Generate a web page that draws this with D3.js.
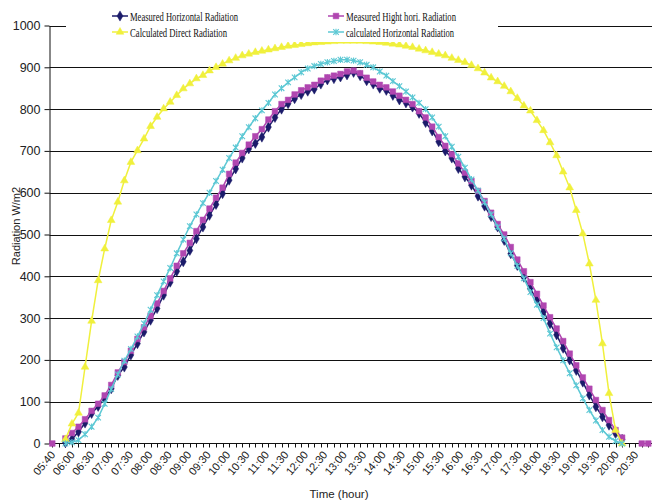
<!DOCTYPE html>
<html><head><meta charset="utf-8">
<script src="https://cdn.jsdelivr.net/npm/d3@7"></script>
<style>body{margin:0;background:#fff}svg{display:block}</style>
</head><body>
<svg id="c" width="652" height="502"></svg>
<script>
const tickLabels = ["05:40","06:00","06:30","07:00","07:30","08:00","08:30","09:00","09:30","10:00","10:30","11:00","11:30","12:00","12:30","13:00","13:30","14:00","14:30","15:00","15:30","16:00","16:30","17:00","17:30","18:00","18:30","19:00","19:30","20:00","20:30"];
const seriesNames = ["Measured Horizontal Radiation","Measured Hight hori. Radiation","Calculated Direct Radiation","calculated Horizontal Radiation"];
const yTicks = [0,100,200,300,400,500,600,700,800,900,1000];

const measuredHorizontal = [null,null,2,10,28,49,72,89,108,131,163,183,212,239,267,295,323,355,386,412,435,462,490,518,546,572,598,630,657,683,705,718,733,757,780,800,813,825,835,843,848,860,870,873,877,882,888,880,868,860,850,845,833,822,815,805,790,768,748,722,700,683,658,638,618,592,568,543,518,486,454,426,398,370,343,315,287,260,228,200,175,147,116,88,64,44,24,10,null,null,null,null];
const measuredHigh = [0,null,12,25,40,58,78,95,115,140,170,195,222,250,278,305,335,365,395,425,455,480,508,535,562,588,612,645,672,695,715,735,752,775,795,812,822,835,845,852,858,868,876,880,884,890,892,886,875,866,858,852,842,832,822,812,795,780,758,733,712,692,670,648,628,604,580,552,525,500,470,440,412,386,358,330,302,275,245,215,187,158,131,104,80,56,32,14,null,null,0,0];
const calculatedDirect = [null,null,10,47,73,183,293,390,466,534,578,629,673,701,729,759,781,801,817,833,849,861,873,881,892,900,908,916,922,928,932,936,939,942,945,948,951,953,955,957,959,960,961,962,963,963,963,963,962,961,960,958,956,954,951,948,944,940,936,932,928,922,917,912,905,897,887,875,866,855,842,826,808,796,773,749,720,689,650,612,558,502,430,343,239,120,32,0,null,null,null,null];
const calculatedHorizontal = [null,null,0,3,8,22,40,62,95,130,165,198,226,256,287,320,355,388,420,455,488,520,548,575,600,628,655,683,708,735,757,778,797,815,835,850,864,876,888,897,903,908,912,915,918,918,916,912,906,900,890,880,867,855,842,828,815,800,780,758,735,710,686,660,632,605,577,548,518,490,455,425,395,362,332,300,263,230,199,168,139,108,80,55,32,16,6,0,null,null,null,null];

const colors = ["#1b1b6a","#b046b0","#f0f03c","#5cc8d4"];
const symbols = ["diamond","square","triangle","star"];
const allSeries = [measuredHorizontal, measuredHigh, calculatedDirect, calculatedHorizontal];

const svg = d3.select("#c");
const idx = d3.range(measuredHorizontal.length);
const x = d3.scalePoint().domain(idx).range([52.3, 648.3]);
const xl = d3.scalePoint().domain(tickLabels).range([53, 636]);
const y = d3.scaleLinear().domain([0,1000]).range([443.5, 25.5]);
const X0 = 49.5, XR = 652;

// gridlines
svg.append("g").selectAll("line").data(yTicks.filter(v=>v>0)).join("line")
  .attr("x1",X0).attr("x2",XR)
  .attr("y1",v=>Math.round(y(v))+0.5).attr("y2",v=>Math.round(y(v))+0.5)
  .attr("stroke","#111").attr("stroke-width",1.2);

// y axis
const ya = svg.append("g").attr("transform",`translate(${X0},0)`)
  .call(d3.axisLeft(y).tickValues(yTicks).tickFormat(d3.format("d")).tickSize(5).tickSizeOuter(0).tickPadding(4));
ya.select(".domain").attr("stroke","#111");
ya.selectAll(".tick line").attr("stroke","#111");
ya.selectAll("text").attr("font-family","Liberation Sans, Arial, sans-serif").attr("font-size",12.5).attr("fill","#222");

// x axis
const xa = svg.append("g").attr("transform","translate(0,443.5)");
xa.append("line").attr("x1",X0).attr("x2",XR).attr("stroke","#111").attr("stroke-width",1.2);
xa.selectAll("line.t").data(idx).join("line").attr("class","t")
  .attr("x1",i=>Math.round(x(i))+0.5).attr("x2",i=>Math.round(x(i))+0.5)
  .attr("y1",0).attr("y2",4).attr("stroke","#111");
xa.selectAll("text").data(tickLabels).join("text")
  .attr("transform",t=>`translate(${xl(t)},${9}) rotate(-50)`)
  .attr("text-anchor","end").attr("dy","0.35em")
  .attr("font-family","Liberation Sans, Arial, sans-serif").attr("font-size",11).attr("fill","#222")
  .text(t=>t);

// axis titles
svg.append("text").attr("x",339).attr("y",498).attr("text-anchor","middle")
  .attr("font-family","Liberation Sans, Arial, sans-serif").attr("font-size",11.5).attr("fill","#222").text("Time (hour)");
svg.append("text").attr("transform","translate(20,226) rotate(-90)").attr("text-anchor","middle")
  .attr("font-family","Liberation Sans, Arial, sans-serif").attr("font-size",11).attr("fill","#222").text("Radiation W/m2");

function markerPath(kind){
  if(kind==="star") return "M-2.8,-2.8L2.8,2.8M-2.8,2.8L2.8,-2.8M0,-3.2L0,3.2";
  const t = {diamond:d3.symbolDiamond, square:d3.symbolSquare, triangle:d3.symbolTriangle}[kind];
  const s = {diamond:30, square:32, triangle:26}[kind];
  return d3.symbol().type(t).size(s)();
}
function drawMarker(g, kind, color){
  g.append("path").attr("d",markerPath(kind))
   .attr("fill", kind==="star" ? "none" : color)
   .attr("stroke", color).attr("stroke-width", kind==="star"?1.1:0.5);
}

const line = d3.line().defined(d=>d[1]!=null).x(d=>x(d[0])).y(d=>y(d[1]));
allSeries.forEach((arr,s)=>{
  const pts = arr.map((v,i)=>[i,v]);
  const g = svg.append("g");
  g.append("path").attr("d",line(pts)).attr("fill","none").attr("stroke",colors[s]).attr("stroke-width",1.5);
  pts.filter(p=>p[1]!=null).forEach(p=>{
    const m = g.append("g").attr("transform",`translate(${x(p[0])},${y(p[1])})`);
    drawMarker(m, symbols[s], colors[s]);
  });
});

// legend
const lg = svg.append("g");
lg.append("rect").attr("x",66).attr("y",6).attr("width",432).attr("height",36).attr("fill","#fff");
const lpos = [[112,16],[328,16],[112,32],[328,32]];
const lwid = [108,110,97,108];
seriesNames.forEach((n,s)=>{
  const [lx,ly] = lpos[s];
  lg.append("line").attr("x1",lx).attr("x2",lx+16).attr("y1",ly).attr("y2",ly).attr("stroke",colors[s]).attr("stroke-width",1.5);
  const m = lg.append("g").attr("transform",`translate(${lx+8},${ly})`);
  drawMarker(m, symbols[s], colors[s]);
  lg.append("text").attr("x",lx+18).attr("y",ly+4.5)
    .attr("font-family","Liberation Serif, Times New Roman, serif").attr("font-size",13).attr("fill","#111")
    .attr("textLength",lwid[s]).attr("lengthAdjust","spacingAndGlyphs").text(n);
});
</script>
</body></html>
